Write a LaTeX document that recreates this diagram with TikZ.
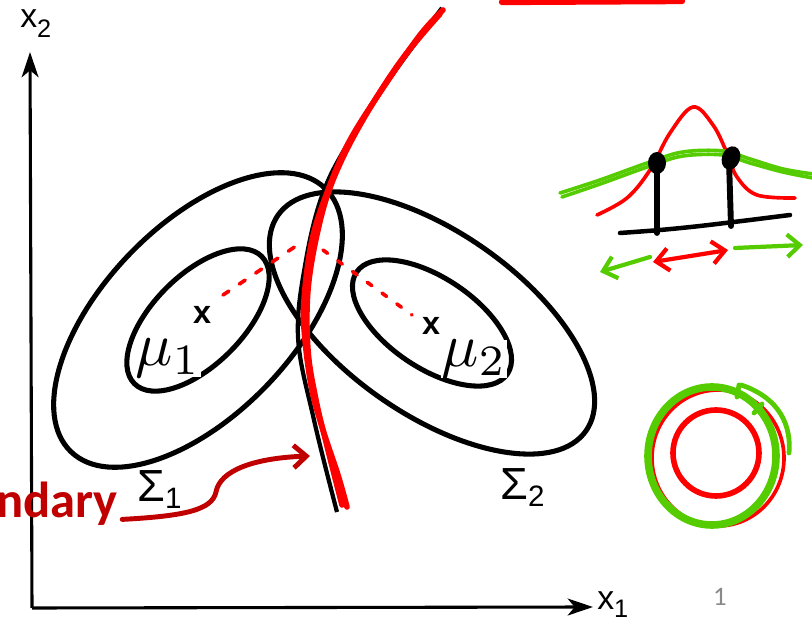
\documentclass[tikz,border=0pt]{standalone}
\usepackage{fontspec}
\usepackage{graphicx}
\usepackage{tikz}
\usetikzlibrary{arrows.meta}
\newfontfamily\scanfont{Liberation Sans}
\newfontfamily\slidefont{Carlito}
\definecolor{inkred}{RGB}{255,0,0}
\definecolor{inkgreen}{RGB}{85,204,0}
\definecolor{slidered}{RGB}{192,0,0}
\definecolor{pagegray}{RGB}{137,137,137}

\begin{document}
\begin{tikzpicture}[x=0.025cm,y=-0.025cm,>=Stealth,
  contour/.style={line width=3.6pt},
  axis/.style={line width=2.2pt,-{Stealth[length=18pt,width=12pt,inset=5pt]}},
  ink/.style={line width=#1,line cap=round,line join=round},
  scanlbl/.style={inner sep=0pt,font=\scanfont\fontsize{24}{28}\selectfont},
  sigmalbl/.style={anchor=base west,inner sep=0pt,font=\scanfont\fontsize{32}{36}\selectfont},
  meanlbl/.style={fill=white,inner sep=0pt},
  barb/.style={-{Straight Barb[length=9pt,width=16pt]}},
  barbboth/.style={{Straight Barb[length=9pt,width=16pt]}-{Straight Barb[length=9pt,width=16pt]}}]
  \useasboundingbox (0,0) rectangle (812,622);
  \fill[white] (0,0) rectangle (812,622);

  \coordinate (O) at (32,608);
  \coordinate (ytip) at (30,52);
  \coordinate (xtip) at (593,607);
  \draw[axis] (O)--(ytip);
  \draw[axis] (O)--(xtip);
  \node[scanlbl,anchor=base west] (xtwo) at (20,28) {x\raisebox{-7pt}{\fontsize{18}{20}\selectfont 2}};
  \node[scanlbl,anchor=base west] (xone) at (597,610) {x\raisebox{-5pt}{\fontsize{18}{20}\selectfont 1}};

  \coordinate (C1) at (198,320);
  \coordinate (C2) at (432,323);
  \draw[contour,rotate around={46:(C1)}] (C1) ellipse [x radius=183,y radius=95];
  \draw[contour,rotate around={45:(C1)}] (C1) ellipse [x radius=90,y radius=45];
  \draw[contour,rotate around={-35:(C2)}] (C2) ellipse [x radius=188,y radius=91];
  \draw[contour,rotate around={-34:(C2)}] (C2) ellipse [x radius=91,y radius=45];
  \draw[contour,line width=3pt] plot[smooth,tension=0.6] coordinates
    {(442,8) (390,78) (350,140) (323,193) (306,260) (298,337) (314,420) (337,512)};

  \node[meanlbl] (mu1) at (168,358) {\scalebox{4.4}{$\mu_1$}};
  \node[meanlbl] (mu2) at (474,359) {\scalebox{4.4}{$\mu_2$}};
  \node[scanlbl,font=\scanfont\bfseries\fontsize{23}{28}\selectfont] (mark1) at (202,315) {x};
  \node[scanlbl,font=\scanfont\bfseries\fontsize{23}{28}\selectfont] (mark2) at (431,326) {x};
  \node[sigmalbl] (sig1) at (137,502) {Σ\raisebox{-4.7pt}{\fontsize{21}{24}\selectfont 1}};
  \node[sigmalbl] (sig2) at (500,500) {Σ\raisebox{-4.7pt}{\fontsize{21}{24}\selectfont 2}};

  \draw[inkred,ink=2.6pt,dash pattern=on 5pt off 9pt] (223,295)--(302,242);
  \draw[inkred,ink=2.6pt,dash pattern=on 4pt off 9pt] (323,250)--(412,315);

  \draw[inkred,ink=4pt] plot[smooth,tension=0.6] coordinates
    {(443,10) (420,35) (385,85) (350,140) (328,190) (312,240) (304,300) (305,340) (312,390) (323,430) (338,475) (347,507)};
  \draw[inkred,ink=4pt] plot[smooth,tension=0.6] coordinates
    {(440,14) (400,62) (360,125) (333,180) (318,230) (308,290) (308,350) (316,400) (328,450) (342,505)};
  \draw[inkred,ink=4.5pt] (502,2)--(682,1);

  \node[anchor=base east,inner sep=0pt,text=slidered,font=\slidefont\bfseries\fontsize{36}{40}\selectfont] (bnd) at (118,518) {ndary};
  \coordinate (bndtip) at (310,456);
  \draw[slidered,ink=3.5pt,barb] ([xshift=3pt,yshift=-1pt]bnd.base east)
    .. controls (185,516) and (212,510) .. (216,492)
    .. controls (220,470) and (255,458) .. (bndtip);

  \draw[inkred,ink=2.6pt] plot[smooth,tension=0.6] coordinates
    {(597,215) (627,198) (650,170) (670,133) (693,107) (713,125) (727,153) (737,177) (757,195) (795,198)};
  \draw[inkgreen,ink=2.6pt] plot[smooth,tension=0.6] coordinates
    {(560,193) (600,180) (650,162) (683,152) (723,151) (750,159) (783,169) (813,174)};
  \draw[inkgreen,ink=2.6pt] plot[smooth,tension=0.6] coordinates
    {(562,197) (600,184) (650,166) (683,156) (723,155) (750,163) (783,172) (813,178)};
  \draw[ink=3.2pt] plot[smooth,tension=0.5] coordinates {(620,233) (660,230) (700,226) (750,220) (790,215)};
  \draw[ink=4.2pt] (657,167)--(657,233);
  \draw[ink=4.2pt] (729,160)--(731,226);
  \fill (657,163) ellipse [x radius=9,y radius=11];
  \fill[rotate around={-20:(731,158)}] (731,158) ellipse [x radius=9,y radius=12];
  \draw[inkgreen,ink=3pt,barb] (650,257)--(600,272);
  \draw[inkred,ink=3pt,barbboth] (653,262)--(728,250);
  \draw[inkgreen,ink=3pt,barb] (735,248)--(803,245);

  \draw[inkred,ink=2.6pt] (718,458) ellipse [x radius=66,y radius=68];
  \draw[inkred,ink=4pt] (716,453) ellipse [x radius=43,y radius=43];
  \draw[inkgreen,ink=5.4pt] (712,456) ellipse [x radius=64,y radius=69];
  \draw[inkgreen,ink=3.4pt] (741,385) .. controls (772,395) and (792,418) .. (789,453);
  \draw[inkgreen,ink=3.4pt] (739,385)--(737,397);
  \draw[inkgreen,ink=3.4pt] (754,413)--(762,404);

  \node[inner sep=0pt,text=pagegray,font=\slidefont\fontsize{19}{22}\selectfont] (pg) at (720,597) {1};
\end{tikzpicture}
\end{document}
